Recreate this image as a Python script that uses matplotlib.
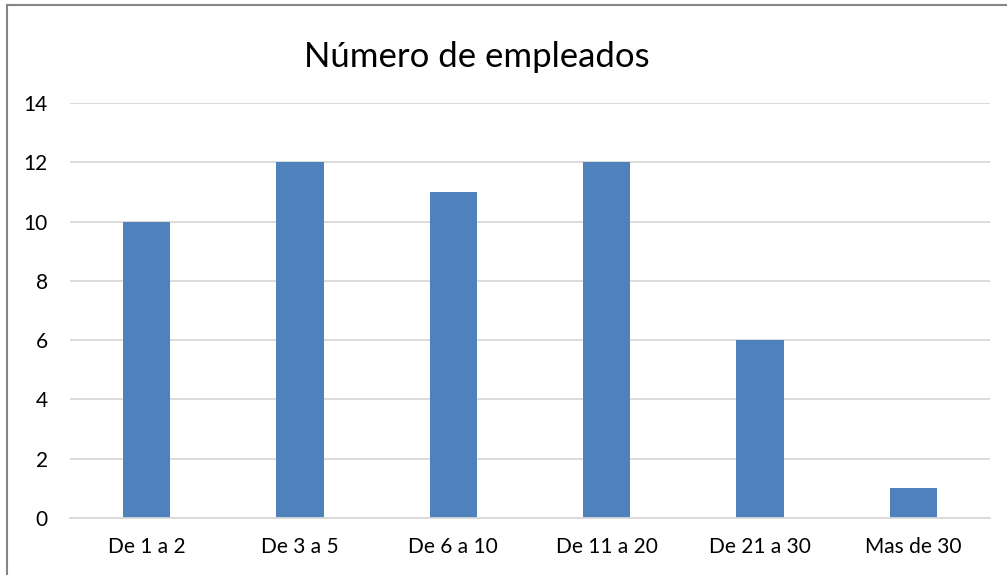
import matplotlib
matplotlib.use("Agg")
import matplotlib.pyplot as plt
from matplotlib.lines import Line2D

categories = ["De 1 a 2", "De 3 a 5", "De 6 a 10", "De 11 a 20", "De 21 a 30", "Mas de 30"]
values = [10, 12, 11, 12, 6, 1]
yticks = [0, 2, 4, 6, 8, 10, 12, 14]
title = "Número de empleados"

plt.rcParams['font.family'] = ['Lato', 'DejaVu Sans']

fig = plt.figure(figsize=(10.07, 5.75), dpi=100)
ax = fig.add_axes([70/1007, 1-518/575, 920/1007, (518-103)/575])

x = list(range(len(categories)))
ax.bar(x, values, width=0.31, color="#4f81bd", zorder=3)
ax.set_xlim(-0.5, len(categories) - 0.5)
ax.set_ylim(0, 14)
ax.set_yticks(yticks)
ax.set_xticks(x)
ax.set_xticklabels(categories, fontsize=15, color="#000000")
ax.tick_params(axis='y', labelsize=15, length=0, pad=16)
ax.tick_params(axis='x', length=0, pad=14)
ax.grid(axis='y', color="#d9d9d9", linewidth=1.3, zorder=0)
for s in ["top", "right", "left"]:
    ax.spines[s].set_visible(False)
ax.spines["bottom"].set_color("#d9d9d9")
ax.spines["bottom"].set_linewidth(1.3)
ax.spines["bottom"].set_zorder(4)

fig.text(477/1007, 1-57/575, title, fontsize=25, ha="center", va="center")

# outer chart border (top and left edges visible)
fig.add_artist(Line2D([7/1007, 1.0], [1-4.5/575, 1-4.5/575], transform=fig.transFigure,
                      color="#868686", linewidth=1.5))
fig.add_artist(Line2D([7/1007, 7/1007], [0.0, 1-4.5/575], transform=fig.transFigure,
                      color="#868686", linewidth=1.5))

fig.savefig("out.png", dpi=100)
